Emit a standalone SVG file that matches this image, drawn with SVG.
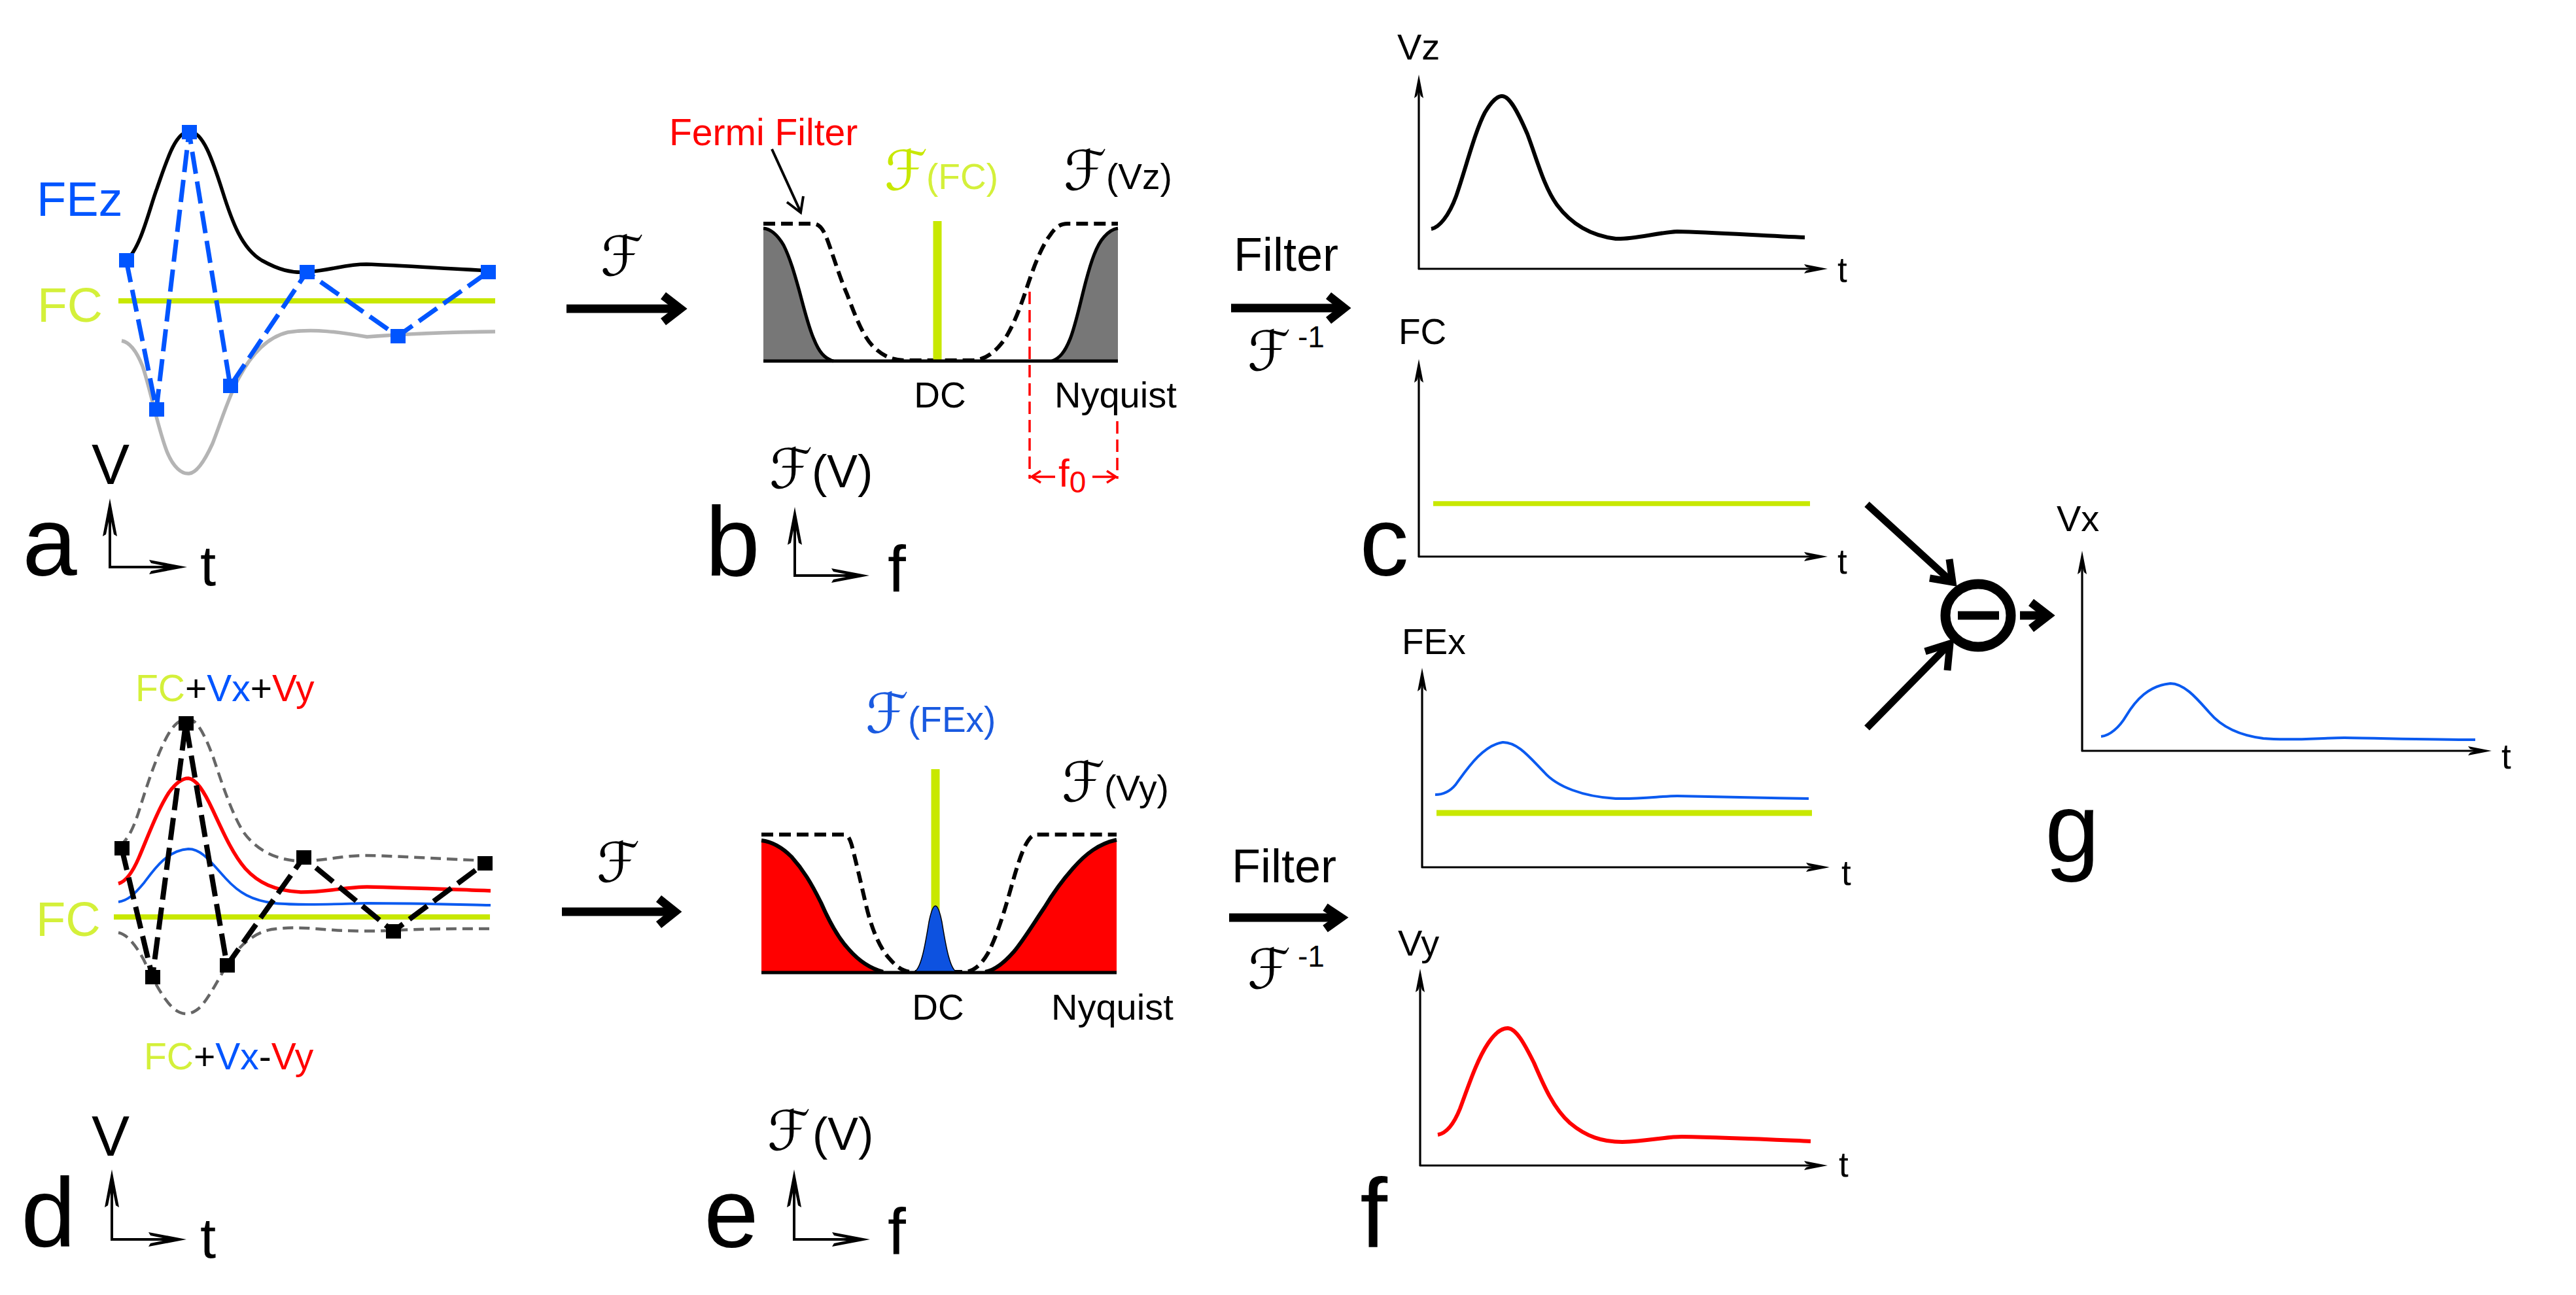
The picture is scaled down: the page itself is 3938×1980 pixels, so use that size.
<svg xmlns="http://www.w3.org/2000/svg" width="3938" height="1980" viewBox="0 0 3938 1980">
<style>
text{font-family:"Liberation Sans",Arial,sans-serif}
.big{font-size:150px;text-anchor:middle}
.ax{font-size:87px;text-anchor:middle}
.sf{font-family:"DejaVu Serif","DejaVu Sans",serif;font-style:italic;font-size:84px}
.yg{fill:#d4f03a}
.ygs{fill:#c8e800}
.bl{fill:#0055ff}
.bl2{fill:#1a5ae0}
.rd{fill:#ff0000}
.axis{stroke:#000;stroke-width:3.2;fill:none}
.axb{stroke:#000;stroke-width:4;fill:none}
.fcl{stroke:#c8e800;stroke-width:8;fill:none}
.thick{stroke:#000;stroke-width:13;fill:none;stroke-linejoin:miter;stroke-miterlimit:10}
.filt{stroke:#000;stroke-width:6;fill:none;stroke-dasharray:18 9}
.edge{stroke:#000;stroke-width:5;fill:none}
</style>
<defs>
<marker id="ah" markerUnits="userSpaceOnUse" viewBox="-40 -9 42 18" markerWidth="42" markerHeight="18" refX="-15" refY="0" orient="auto">
<path d="M0,0 L-36,-7 L-33,-3 L-24,0 L-33,3 L-36,7 Z" fill="#000"/>
</marker>
<marker id="ahb" markerUnits="userSpaceOnUse" viewBox="-62 -12 64 24" markerWidth="64" markerHeight="24" refX="-20" refY="0" orient="auto">
<path d="M0,0 L-58,-11 L-55,-6 L-26,0 L-55,6 L-58,11 Z" fill="#000"/>
</marker>
<marker id="ahr" markerUnits="userSpaceOnUse" viewBox="-18 -12 20 24" markerWidth="20" markerHeight="24" refX="0" refY="0" orient="auto">
<path d="M-14,-9 L0,0 L-14,9" fill="none" stroke="#ff0000" stroke-width="3.5"/>
</marker>
</defs>
<rect width="3938" height="1980" fill="#fff"/>

<g id="panel-a">
<line class="fcl" x1="181" y1="460" x2="757" y2="460"/>
<path d="M193,398 C215,380 228,320 240,288 C255,245 268,202 289,201 C310,200 325,245 340,292 C355,340 370,380 400,398 C425,412 445,418 470,416 C510,412 530,404 560,404 C620,406 700,412 757,414" stroke="#000" stroke-width="5.5" fill="none"/>
<path d="M186,521 C198,523 208,535 218,560 C230,595 240,650 255,690 C265,715 278,725 289,724 C302,723 315,700 325,678 C338,645 350,605 365,578 C385,540 410,515 440,508 C480,502 520,508 561,515 C600,512 680,508 757,507" stroke="#b4b4b4" stroke-width="5.5" fill="none"/>
<polyline points="193,398 239,626 289,202 352,590 469,416 608,514 746,416" stroke="#0055ff" stroke-width="7" fill="none" stroke-dasharray="34 12"/>
<g fill="#0055ff">
<rect x="182" y="387" width="23" height="22"/><rect x="228" y="615" width="23" height="22"/><rect x="278" y="191" width="23" height="22"/><rect x="341" y="579" width="23" height="22"/><rect x="458" y="405" width="23" height="22"/><rect x="597" y="503" width="23" height="22"/><rect x="735" y="405" width="23" height="22"/>
</g>
<text x="56" y="330" font-size="74" class="bl">FEz</text>
<text x="57" y="492" font-size="75" class="yg">FC</text>
<text class="ax" x="169" y="740">V</text>
<line class="axb" x1="168" y1="869" x2="168" y2="782" marker-end="url(#ahb)"/>
<line class="axb" x1="166" y1="867" x2="266" y2="867" marker-end="url(#ahb)"/>
<text class="ax" x="318" y="895">t</text>
<text class="big" x="76" y="880">a</text>
</g>

<g id="panel-b">
<path d="M1167,349 C1177,350 1188,358 1198,375 C1208,395 1215,420 1222,445 C1230,475 1236,500 1244,518 C1252,538 1260,548 1274,552 L1167,552 Z" fill="#777"/>
<path d="M1608,552 C1620,548 1628,538 1636,518 C1645,495 1652,460 1660,430 C1668,400 1676,375 1688,362 C1696,353 1702,350 1709,349 L1709,552 Z" fill="#777"/>
<path class="edge" d="M1167,349 C1177,350 1188,358 1198,375 C1208,395 1215,420 1222,445 C1230,475 1236,500 1244,518 C1252,538 1260,548 1274,552"/>
<path class="edge" d="M1608,552 C1620,548 1628,538 1636,518 C1645,495 1652,460 1660,430 C1668,400 1676,375 1688,362 C1696,353 1702,350 1709,349"/>
<path class="filt" d="M1167,342 L1243,342 C1252,342 1258,350 1263,362 C1272,385 1282,420 1295,450 C1308,485 1320,515 1335,530 C1350,545 1365,551 1385,551 L1485,551 C1505,551 1520,540 1535,520 C1548,500 1558,475 1568,445 C1578,415 1590,380 1605,360 C1613,348 1620,342 1632,342 L1709,342"/>
<line x1="1433" y1="338" x2="1433" y2="551" stroke="#c8e800" stroke-width="13"/>
<line x1="1167" y1="552" x2="1709" y2="552" stroke="#000" stroke-width="5"/>
<text x="1023" y="222" font-size="57" class="rd">Fermi Filter</text>
<line x1="1180" y1="228" x2="1223" y2="322" stroke="#000" stroke-width="4"/>
<polyline points="1203,309 1224,325 1228,300" stroke="#000" stroke-width="4" fill="none"/>
<text class="sf ygs" x="1352" y="290">ℱ</text>
<text x="1416" y="289" font-size="55" class="yg">(FC)</text>
<text class="sf" x="1626" y="290">ℱ</text>
<text x="1691" y="289" font-size="55">(Vz)</text>
<text x="1437" y="623" font-size="55" text-anchor="middle">DC</text>
<text x="1612" y="623" font-size="56">Nyquist</text>
<line x1="1574" y1="446" x2="1574" y2="732" stroke="#ff0000" stroke-width="3.5" stroke-dasharray="19 9"/>
<line x1="1708" y1="644" x2="1708" y2="732" stroke="#ff0000" stroke-width="3.5" stroke-dasharray="19 9"/>
<line x1="1613" y1="729" x2="1577" y2="729" stroke="#ff0000" stroke-width="3.5" marker-end="url(#ahr)"/>
<line x1="1670" y1="729" x2="1706" y2="729" stroke="#ff0000" stroke-width="3.5" marker-end="url(#ahr)"/>
<text x="1618" y="744" font-size="60" class="rd">f<tspan font-size="46" dy="9">0</tspan></text>
<text class="sf" x="1176" y="746">ℱ</text>
<text x="1241" y="745" font-size="70">(V)</text>
<line class="axb" x1="1215" y1="882" x2="1215" y2="795" marker-end="url(#ahb)"/>
<line class="axb" x1="1213" y1="880" x2="1309" y2="880" marker-end="url(#ahb)"/>
<text x="1371" y="905" font-size="100" text-anchor="middle">f</text>
<text class="big" x="1120" y="880">b</text>
</g>

<g id="panel-c">
<line class="axis" x1="2169" y1="412" x2="2169" y2="129" marker-end="url(#ah)"/>
<line class="axis" x1="2168" y1="411" x2="2779" y2="411" marker-end="url(#ah)"/>
<path d="M2188,350 C2200,348 2215,330 2226,300 C2240,260 2255,200 2270,172 C2280,155 2290,146 2297,147 C2308,148 2320,170 2335,205 C2350,245 2360,285 2380,313 C2400,340 2430,360 2470,365 C2500,366 2530,356 2564,354 C2620,355 2700,361 2759,363" stroke="#000" stroke-width="6" fill="none"/>
<text x="2136" y="91" font-size="56">Vz</text>
<text x="2809" y="431" font-size="53">t</text>
<line class="axis" x1="2169" y1="852" x2="2169" y2="564" marker-end="url(#ah)"/>
<line class="axis" x1="2168" y1="851" x2="2779" y2="851" marker-end="url(#ah)"/>
<line x1="2191" y1="770" x2="2767" y2="770" stroke="#c8e800" stroke-width="7.6"/>
<text x="2138" y="526" font-size="55">FC</text>
<text x="2809" y="877" font-size="53">t</text>
<text class="big" x="2116" y="880">c</text>
</g>

<g id="panel-d">
<line class="fcl" x1="174" y1="1402" x2="749" y2="1402" stroke-width="7"/>
<path d="M183,1293 C195,1285 205,1265 214,1235 C228,1190 245,1140 262,1115 C272,1102 280,1099 288,1099 C300,1100 312,1120 326,1158 C340,1200 355,1245 372,1272 C390,1297 415,1312 450,1316 C490,1318 520,1308 560,1308 C620,1309 680,1314 750,1316" stroke="#666" stroke-width="4.5" fill="none" stroke-dasharray="16 9"/>
<path d="M181,1426 C192,1428 205,1440 220,1468 C235,1500 255,1540 275,1548 C285,1552 295,1550 306,1540 C320,1525 335,1495 350,1470 C365,1448 385,1427 415,1421 C450,1416 480,1420 510,1422 C540,1424 580,1424 612,1422 C660,1420 700,1420 750,1420" stroke="#666" stroke-width="4.5" fill="none" stroke-dasharray="16 9"/>
<path d="M181,1351 C192,1348 202,1335 212,1312 C225,1282 240,1240 258,1212 C268,1198 278,1190 288,1190 C300,1191 312,1210 325,1238 C340,1270 355,1305 375,1328 C395,1350 420,1362 460,1364 C500,1364 530,1356 561,1356 C620,1357 690,1360 750,1362" stroke="#ff0000" stroke-width="5.5" fill="none"/>
<path d="M181,1379 C195,1377 205,1368 220,1350 C235,1330 255,1300 288,1298 C310,1298 325,1322 345,1343 C365,1365 385,1377 420,1381 C460,1385 520,1382 561,1381 C630,1381 700,1383 750,1384" stroke="#0a5af0" stroke-width="3.8" fill="none"/>
<polyline points="186,1297 233,1494 284,1106 347,1476 464,1311 601,1424 741,1320" stroke="#000" stroke-width="8" fill="none" stroke-dasharray="34 12"/>
<g fill="#000">
<rect x="175" y="1286" width="23" height="22"/><rect x="222" y="1483" width="23" height="22"/><rect x="273" y="1095" width="23" height="22"/><rect x="336" y="1465" width="23" height="22"/><rect x="453" y="1300" width="23" height="22"/><rect x="590" y="1413" width="23" height="22"/><rect x="730" y="1309" width="23" height="22"/>
</g>
<text x="207" y="1072" font-size="57"><tspan class="yg">FC</tspan>+<tspan class="bl">Vx</tspan>+<tspan class="rd">Vy</tspan></text>
<text x="220" y="1635" font-size="57"><tspan class="yg">FC</tspan>+<tspan class="bl">Vx</tspan>-<tspan class="rd">Vy</tspan></text>
<text x="55" y="1431" font-size="74" class="yg">FC</text>
<text class="ax" x="169" y="1767">V</text>
<line class="axb" x1="171" y1="1897" x2="171" y2="1808" marker-end="url(#ahb)"/>
<line class="axb" x1="169" y1="1895" x2="265" y2="1895" marker-end="url(#ahb)"/>
<text class="ax" x="318" y="1923">t</text>
<text class="big" x="74" y="1906">d</text>
</g>

<g id="panel-e">
<path d="M1164,1285 C1180,1287 1195,1295 1210,1310 C1228,1330 1240,1350 1255,1380 C1268,1410 1282,1435 1298,1452 C1312,1468 1328,1480 1350,1486 L1164,1486 Z" fill="#ff0000"/>
<path d="M1506,1486 C1520,1484 1535,1472 1550,1455 C1565,1437 1580,1412 1597,1387 C1612,1362 1625,1345 1640,1328 C1660,1305 1680,1290 1707,1284 L1707,1486 Z" fill="#ff0000"/>
<path class="filt" d="M1164,1276 L1290,1276 C1296,1276 1299,1282 1302,1292 C1308,1315 1315,1345 1323,1380 C1332,1420 1345,1450 1360,1466 C1372,1480 1382,1486 1395,1486 L1474,1486 C1488,1486 1500,1475 1510,1458 C1522,1435 1532,1405 1542,1370 C1552,1335 1560,1305 1570,1288 C1575,1280 1579,1276 1586,1276 L1707,1276"/>
<path d="M1164,1285 C1180,1287 1195,1295 1210,1310 C1228,1330 1240,1350 1255,1380 C1268,1410 1282,1435 1298,1452 C1312,1468 1328,1480 1350,1486" stroke="#000" stroke-width="6" fill="none"/>
<path d="M1506,1486 C1520,1484 1535,1472 1550,1455 C1565,1437 1580,1412 1597,1387 C1612,1362 1625,1345 1640,1328 C1660,1305 1680,1290 1707,1284" stroke="#000" stroke-width="6" fill="none"/>
<line x1="1430" y1="1176" x2="1430" y2="1420" stroke="#c8e800" stroke-width="13"/>
<path d="M1396,1486 C1408,1486 1415,1440 1420,1410 C1424,1390 1427,1385 1430,1385 C1433,1385 1436,1390 1440,1410 C1445,1440 1452,1486 1464,1486 Z" fill="#0d52e0" stroke="#000" stroke-width="1.5"/>
<line x1="1164" y1="1487" x2="1707" y2="1487" stroke="#000" stroke-width="5"/>
<text class="sf bl2" x="1323" y="1120">ℱ</text>
<text x="1388" y="1119" font-size="55" class="bl2">(FEx)</text>
<text class="sf" x="1623" y="1225">ℱ</text>
<text x="1688" y="1224" font-size="55">(Vy)</text>
<text x="1434" y="1559" font-size="55" text-anchor="middle">DC</text>
<text x="1607" y="1559" font-size="56">Nyquist</text>
<text class="sf" x="1173" y="1758">ℱ</text>
<text x="1242" y="1758" font-size="70">(V)</text>
<line class="axb" x1="1214" y1="1897" x2="1214" y2="1808" marker-end="url(#ahb)"/>
<line class="axb" x1="1212" y1="1895" x2="1310" y2="1895" marker-end="url(#ahb)"/>
<text x="1371" y="1918" font-size="100" text-anchor="middle">f</text>
<text class="big" x="1118" y="1907">e</text>
</g>

<g id="panel-f">
<line class="axis" x1="2174" y1="1327" x2="2174" y2="1036" marker-end="url(#ah)"/>
<line class="axis" x1="2173" y1="1326" x2="2782" y2="1326" marker-end="url(#ah)"/>
<path d="M2194,1215 C2205,1215 2215,1212 2225,1200 C2240,1180 2265,1140 2297,1135 C2320,1134 2340,1160 2360,1180 C2380,1203 2420,1218 2470,1221 C2510,1222 2540,1217 2564,1217 C2640,1218 2700,1220 2765,1221" stroke="#0a5af0" stroke-width="4" fill="none"/>
<line x1="2196" y1="1243" x2="2770" y2="1243" stroke="#c8e800" stroke-width="8.8"/>
<text x="2143" y="1000" font-size="55">FEx</text>
<text x="2815" y="1353" font-size="53">t</text>
<line class="axis" x1="2171" y1="1783" x2="2171" y2="1496" marker-end="url(#ah)"/>
<line class="axis" x1="2170" y1="1782" x2="2779" y2="1782" marker-end="url(#ah)"/>
<path d="M2198,1735 C2210,1733 2222,1720 2232,1695 C2245,1660 2258,1620 2275,1595 C2285,1580 2295,1572 2305,1572 C2318,1573 2330,1595 2345,1625 C2360,1660 2375,1695 2400,1717 C2425,1738 2450,1746 2480,1746 C2520,1745 2545,1738 2571,1738 C2640,1739 2700,1742 2768,1745" stroke="#ff0000" stroke-width="6" fill="none"/>
<text x="2137" y="1461" font-size="56">Vy</text>
<text x="2811" y="1799" font-size="53">t</text>
<text class="big" x="2100" y="1907">f</text>
</g>

<g id="panel-g">
<ellipse cx="3024" cy="941" rx="50" ry="48" fill="none" stroke="#000" stroke-width="15"/>
<line x1="2993" y1="941" x2="3056" y2="941" stroke="#000" stroke-width="13"/>
<line class="axis" x1="3183" y1="1149" x2="3183" y2="857" marker-end="url(#ah)"/>
<line class="axis" x1="3182" y1="1148" x2="3794" y2="1148" marker-end="url(#ah)"/>
<path d="M3212,1126 C3225,1125 3240,1112 3250,1095 C3265,1070 3285,1048 3318,1045 C3340,1045 3360,1070 3378,1090 C3395,1110 3420,1124 3460,1129 C3500,1133 3550,1128 3584,1128 C3650,1129 3720,1131 3784,1131" stroke="#0a5af0" stroke-width="4" fill="none"/>
<text x="3144" y="812" font-size="56">Vx</text>
<text x="3824" y="1175" font-size="53">t</text>
<text class="big" x="3168" y="1318">g</text>
</g>

<g id="connectors">
<line class="thick" x1="866" y1="472" x2="1040" y2="472"/>
<polyline class="thick" points="1014,452 1040,472 1014,492"/>
<text class="sf" x="918" y="421">ℱ</text>
<line class="thick" x1="859" y1="1394" x2="1032" y2="1394"/>
<polyline class="thick" points="1007,1374 1032,1394 1007,1414"/>
<text class="sf" x="912" y="1348">ℱ</text>
<line class="thick" x1="1882" y1="471" x2="2055" y2="471"/>
<polyline class="thick" points="2031,452 2055,471 2031,490"/>
<text x="1966" y="414" font-size="72" text-anchor="middle">Filter</text>
<text class="sf" x="1907" y="566">ℱ</text>
<text x="1984" y="531" font-size="46">-1</text>
<line class="thick" x1="1879" y1="1403" x2="2050" y2="1403"/>
<polyline class="thick" points="2026,1387 2050,1403 2026,1420"/>
<text x="1963" y="1349" font-size="72" text-anchor="middle">Filter</text>
<text class="sf" x="1907" y="1511">ℱ</text>
<text x="1984" y="1478" font-size="46">-1</text>
<line x1="2854" y1="771" x2="2982" y2="888" stroke="#000" stroke-width="11"/>
<polyline points="2950,884 2985,890 2980,855" stroke="#000" stroke-width="11" fill="none" stroke-miterlimit="10"/>
<line x1="2854" y1="1113" x2="2978" y2="987" stroke="#000" stroke-width="11"/>
<polyline points="2943,996 2981,984 2977,1025" stroke="#000" stroke-width="11" fill="none" stroke-miterlimit="10"/>
<line x1="3088" y1="941" x2="3130" y2="941" stroke="#000" stroke-width="13"/>
<polyline class="thick" points="3105,921 3131,941 3105,961"/>
</g>
</svg>
